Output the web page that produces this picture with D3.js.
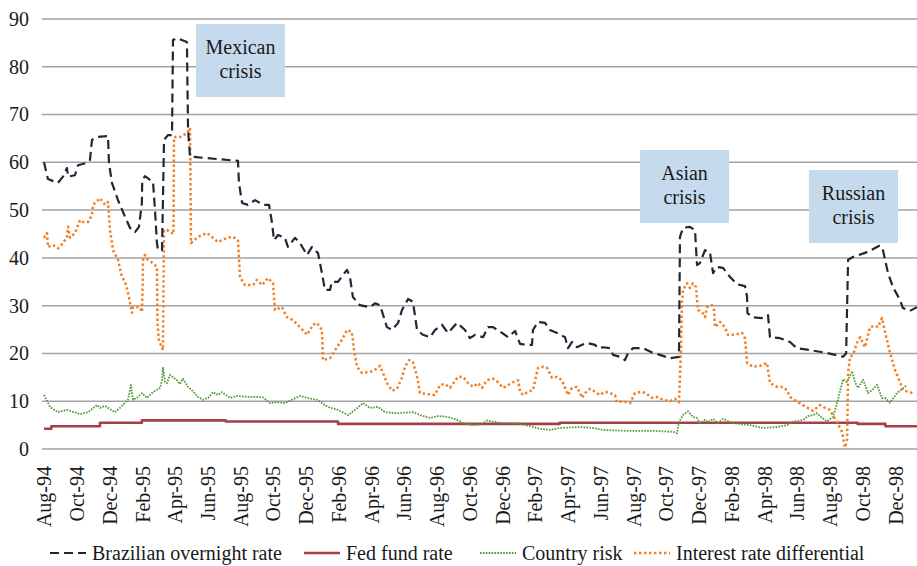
<!DOCTYPE html>
<html>
<head>
<meta charset="utf-8">
<script src="https://cdn.jsdelivr.net/npm/d3@7"></script>
<style>
  html, body { margin: 0; padding: 0; background: #fff; }
  svg { display: block; font-family: "Liberation Serif", "Times New Roman", serif; }
</style>
</head>
<body>
<svg id="chart" width="917" height="566"></svg>
<script>
// ---- DATA (x = months elapsed since Aug-1994, y = percent) ----
const monthLabels = ["Aug-94","Oct-94","Dec-94","Feb-95","Apr-95","Jun-95","Aug-95","Oct-95","Dec-95",
  "Feb-96","Apr-96","Jun-96","Aug-96","Oct-96","Dec-96","Feb-97","Apr-97","Jun-97","Aug-97","Oct-97",
  "Dec-97","Feb-98","Apr-98","Jun-98","Aug-98","Oct-98","Dec-98"];
const monthTicks = [0,2,4,6,8,10,12,14,16,18,20,22,24,26,28,30,32,34,36,38,40,42,44,46,48,50,52];
const yTicks = [0,10,20,30,40,50,60,70,80,90];

const overnightRate = [
  [0,60.0],[0.24,56.5],[0.85,55.7],[1.16,57.0],[1.40,58.8],[1.47,57.0],[1.89,57.3],[2.08,59.4],[2.63,59.9],
  [2.81,60.5],[2.93,64.7],[3.24,65.3],[3.91,65.5],[3.97,59.9],[4.15,55.7],[4.52,52.1],[4.95,48.6],[5.25,46.3],
  [5.56,45.4],[5.80,46.5],[5.98,51.5],[6.00,56.3],[6.17,57.1],[6.66,55.9],[6.78,50.0],[6.90,43.1],[6.97,41.6],
  [7.21,41.6],[7.27,52.7],[7.33,64.7],[7.57,65.7],[7.82,65.7],[7.88,85.6],[8.12,86.0],[8.73,85.2],[8.80,66.8],
  [8.92,61.2],[11.85,60.3],[11.91,55.7],[12.10,51.5],[12.46,51.1],[12.89,52.1],[13.38,51.1],[13.75,51.1],
  [13.93,47.3],[14.05,43.7],[14.30,44.8],[14.72,44.2],[14.90,42.3],[15.33,44.2],[15.64,43.1],[16.07,40.6],
  [16.37,42.3],[16.74,41.0],[16.98,36.8],[17.16,33.3],[17.47,33.3],[17.59,35.0],[17.96,35.0],[18.26,36.4],
  [18.51,37.5],[18.69,36.0],[18.87,31.8],[19.30,30.1],[19.91,29.7],[20.22,30.5],[20.53,30.1],[20.95,25.5],
  [21.26,24.9],[21.63,26.4],[21.87,29.1],[22.24,31.4],[22.54,30.8],[22.79,24.9],[23.15,23.9],[23.58,23.4],
  [23.88,24.9],[24.31,26.0],[24.68,24.3],[25.23,26.4],[25.72,24.9],[26.02,23.2],[26.33,23.9],[26.82,23.4],
  [27.12,25.5],[27.43,25.5],[27.98,24.3],[28.35,23.4],[28.78,24.7],[29.08,22.0],[29.44,21.8],[29.81,21.8],
  [29.87,24.9],[30.18,26.6],[30.61,26.4],[30.91,24.9],[31.34,24.3],[31.83,23.4],[32.01,21.1],[32.26,22.4],
  [32.56,21.3],[32.87,21.8],[33.17,22.2],[33.66,21.8],[33.84,21.1],[34.15,21.3],[34.58,21.1],[34.76,19.7],
  [35.19,19.3],[35.49,18.6],[35.68,20.1],[35.98,21.1],[36.60,21.1],[37.21,20.1],[37.63,19.7],[38.24,19.0],
  [38.79,19.3],[38.85,44.4],[39.04,46.3],[39.46,46.5],[39.77,45.8],[39.89,38.5],[40.07,38.9],[40.38,41.6],
  [40.68,41.2],[40.87,36.8],[41.11,38.1],[41.48,37.9],[41.91,36.0],[42.33,34.5],[42.82,34.1],[42.95,31.8],
  [42.97,28.5],[43.25,27.6],[43.86,27.4],[44.23,28.0],[44.35,23.4],[44.96,23.2],[45.57,22.4],[46.00,21.1],
  [46.79,20.7],[47.83,20.1],[48.81,19.3],[49.00,20.0],[49.12,39.6],[49.42,40.2],[50.27,41.2],[51.07,42.6],
  [51.25,41.6],[51.56,36.8],[51.86,33.9],[52.29,31.2],[52.47,29.5],[52.90,28.9],[53.33,29.7]
];

const fedFundRate = [
  [0,4.25],[0.45,4.75],[3.42,5.5],[5.98,6.0],[11.1,5.75],[17.96,5.25],[31.5,5.5],[49.7,5.25],[51.4,4.75],[53.33,4.75]
];

const countryRisk = [
  [0,11.3],[0.37,8.8],[0.86,7.7],[1.40,8.2],[2.20,7.3],[2.69,7.7],[3.24,9.2],[3.42,8.6],[3.73,9.0],[4.34,7.7],
  [4.64,8.6],[5.13,10.3],[5.31,13.4],[5.44,10.3],[5.74,10.9],[5.99,11.7],[6.29,10.7],[6.66,11.9],[7.09,12.8],
  [7.21,14.4],[7.27,17.0],[7.39,14.0],[7.51,13.8],[7.70,15.5],[8.12,14.4],[8.31,13.6],[8.49,14.7],[8.80,13.0],
  [9.10,12.1],[9.41,10.9],[9.71,10.3],[10.02,10.7],[10.32,11.9],[10.63,11.3],[10.87,11.9],[11.36,10.7],
  [11.79,11.1],[12.40,10.9],[13.01,10.9],[13.38,10.8],[13.81,9.6],[14.23,9.8],[14.72,9.6],[15.15,10.3],
  [15.64,11.1],[16.07,10.7],[16.68,10.3],[17.35,8.8],[17.96,8.2],[18.57,7.1],[19.00,8.2],[19.49,9.6],
  [19.91,8.6],[20.40,8.8],[20.83,7.7],[21.56,7.5],[22.54,7.7],[22.97,7.1],[23.58,6.5],[24.07,6.9],[24.68,6.7],
  [25.23,6.1],[25.60,5.4],[26.21,5.0],[26.76,5.2],[27.06,6.0],[27.43,5.7],[28.04,5.4],[28.89,5.4],[29.69,4.8],
  [30.30,4.2],[30.91,4.0],[31.52,4.4],[32.74,4.6],[33.54,4.4],[34.15,4.0],[35.61,3.8],[37.21,3.8],[38.42,3.6],
  [38.67,3.3],[38.79,5.7],[39.04,7.1],[39.34,7.9],[39.65,6.7],[39.89,6.5],[40.07,5.4],[40.38,6.1],[40.56,5.6],
  [40.87,6.3],[41.17,5.4],[41.48,6.3],[42.09,5.4],[43.13,5.0],[43.92,4.4],[44.78,4.6],[45.39,5.0],[45.75,5.7],
  [46.37,6.1],[46.67,6.9],[46.98,7.1],[47.22,7.5],[47.53,6.5],[47.83,5.8],[48.20,6.7],[48.50,10.3],[48.81,14.6],
  [49.06,14.0],[49.36,16.3],[49.54,14.0],[49.73,12.8],[50.04,14.5],[50.34,11.7],[50.58,12.3],[50.89,13.4],
  [51.19,10.7],[51.38,10.7],[51.68,9.7],[52.11,11.7],[52.72,13.4]
];

const rateDifferential = [
  [0,44.2],[0.18,45.2],[0.24,42.3],[0.55,42.7],[0.86,42.0],[1.16,43.1],[1.40,44.4],[1.47,46.5],[1.59,44.2],
  [1.89,45.2],[2.20,47.9],[2.38,47.5],[2.69,47.5],[2.93,49.0],[2.99,51.1],[3.42,52.5],[3.73,51.1],[3.91,51.7],
  [4.03,45.8],[4.22,41.6],[4.52,39.6],[4.76,36.0],[4.95,35.0],[5.13,32.7],[5.31,29.7],[5.38,28.5],[5.44,29.7],
  [5.86,29.7],[5.99,28.7],[6.05,39.6],[6.17,40.6],[6.35,39.6],[6.66,38.9],[6.90,38.1],[6.93,26.4],[7.02,22.8],
  [7.27,20.7],[7.33,45.8],[7.51,45.8],[7.82,45.2],[7.91,45.0],[7.94,65.3],[8.31,65.3],[8.73,66.1],[8.92,67.2],
  [8.98,43.1],[9.41,44.4],[9.96,45.2],[10.32,44.2],[10.63,43.3],[11.18,44.2],[11.55,44.4],[11.85,43.7],
  [11.97,36.0],[12.28,34.3],[12.77,34.3],[13.01,35.4],[13.32,34.3],[13.68,35.8],[13.99,34.7],[14.11,29.1],
  [14.54,29.7],[14.84,27.6],[15.21,27.0],[15.64,25.5],[16.07,23.9],[16.43,26.0],[16.68,26.4],[16.98,24.9],
  [17.04,18.6],[17.47,19.0],[17.90,21.3],[18.26,23.2],[18.51,24.9],[18.81,24.5],[18.94,20.7],[19.12,17.2],
  [19.43,15.9],[19.79,16.1],[20.10,16.3],[20.53,17.4],[20.71,15.9],[20.95,13.8],[21.26,12.2],[21.56,12.6],
  [21.87,14.9],[22.05,17.2],[22.30,18.6],[22.54,18.2],[22.79,15.1],[22.97,11.7],[23.40,11.5],[23.88,11.3],
  [24.19,13.4],[24.50,13.6],[24.80,12.8],[25.29,15.1],[25.60,15.1],[25.90,13.8],[26.21,13.0],[26.51,13.8],
  [26.76,12.8],[27.06,14.4],[27.43,14.7],[27.73,14.0],[28.04,12.8],[28.47,13.6],[28.77,14.2],[28.96,14.4],
  [29.08,12.0],[29.26,11.3],[29.57,12.0],[29.87,12.3],[30.05,15.1],[30.18,17.0],[30.48,17.2],[30.73,17.0],
  [31.03,14.9],[31.34,15.1],[31.64,14.4],[31.83,12.8],[32.01,11.3],[32.26,12.8],[32.56,13.0],[32.74,11.7],
  [32.87,10.7],[33.05,11.7],[33.35,12.6],[33.66,12.0],[33.96,11.3],[34.27,12.0],[34.58,11.7],[34.88,11.3],
  [35.00,9.8],[35.37,10.0],[35.80,9.6],[36.10,11.7],[36.53,12.0],[36.84,11.5],[37.14,10.7],[37.45,10.9],
  [37.81,10.3],[38.24,10.0],[38.55,10.5],[38.79,9.8],[38.91,20.7],[38.97,30.5],[39.04,33.3],[39.28,34.7],
  [39.46,33.7],[39.65,34.7],[39.83,33.9],[39.95,29.1],[40.20,28.7],[40.38,27.6],[40.50,29.7],[40.81,30.1],
  [40.93,29.1],[40.99,25.5],[41.30,26.6],[41.60,25.5],[41.78,23.9],[42.21,23.9],[42.64,24.3],[42.82,23.2],
  [42.95,18.0],[43.31,17.2],[43.74,17.4],[44.17,18.0],[44.23,16.5],[44.35,13.8],[44.78,13.0],[45.14,13.0],
  [45.39,12.3],[45.57,10.9],[46.06,9.8],[46.61,8.7],[46.98,8.0],[47.40,9.2],[47.71,8.6],[48.01,8.2],
  [48.44,5.6],[48.75,3.6],[48.93,0.3],[49.06,1.9],[49.12,15.9],[49.24,19.3],[49.42,19.7],[49.66,22.2],
  [49.85,23.4],[50.15,21.3],[50.46,25.5],[50.76,25.8],[50.95,25.5],[51.19,27.4],[51.38,24.5],[51.68,20.1],
  [51.99,16.5],[52.29,14.0],[52.47,12.3],[52.90,11.9],[53.08,11.6]
];

const seriesNames = ["Brazilian overnight rate", "Fed fund rate", "Country risk", "Interest rate differential"];

// crisis call-outs: [first line, second line], month span, value span of the box
const crisisText = [["Mexican","crisis"],["Asian","crisis"],["Russian","crisis"]];
const crisisMonths = [[9.29,14.72],[36.41,41.85],[46.73,52.17]];
const crisisValues = [[88.95,73.67],[62.58,47.30],[58.39,43.11]];

// ---- STYLES / LAYOUT ----
const W = 917, H = 566;
const plotLeft = 44, plotRight = 917, plotTop = 19, plotBottom = 449;
const fontSize = 20;
const styles = [
  {color:"#1e2836", width:2.2, dash:"9,5"},
  {color:"#a3404b", width:2.6, dash:null},
  {color:"#4f9a34", width:1.8, dash:"1.6,1.3"},
  {color:"#f47f22", width:2.5, dash:"2.4,2.6"}
];
const legendX = [50, 304, 480, 634];   // start of each legend sample
const legendSample = 36, legendY = 553;

const svg = d3.select("#chart");
svg.append("rect").attr("width", W).attr("height", H).attr("fill", "#fff");

const x = d3.scaleLinear().domain([0, 53.33]).range([plotLeft, plotRight]);
const y = d3.scaleLinear().domain([0, 90]).range([plotBottom, plotTop]);

// gridlines
svg.append("g").selectAll("line").data(yTicks).join("line")
  .attr("x1", plotLeft - 2).attr("x2", plotRight)
  .attr("y1", d => y(d)).attr("y2", d => y(d))
  .attr("stroke", "#a3a3a3").attr("stroke-width", 1.5);

// y axis labels
const yAxis = d3.axisLeft(y).tickValues(yTicks).tickSize(0).tickPadding(0);
const gy = svg.append("g").attr("transform", `translate(${plotLeft - 15},0)`).call(yAxis);
gy.select(".domain").remove();
gy.selectAll("text").attr("font-size", fontSize).attr("fill", "#1a1a1a")
  .attr("font-family", "Liberation Serif, serif");

// x axis labels (rotated)
const xAxis = d3.axisBottom(x).tickValues(monthTicks).tickSize(0)
  .tickFormat((d, i) => monthLabels[i]);
const gx = svg.append("g").attr("transform", `translate(0,${plotBottom})`).call(xAxis);
gx.select(".domain").remove();
gx.selectAll("text")
  .attr("font-size", fontSize).attr("fill", "#1a1a1a")
  .attr("font-family", "Liberation Serif, serif")
  .attr("text-anchor", "end")
  .attr("transform", "translate(0,17) rotate(-90)")
  .attr("x", 0).attr("y", 0).attr("dy", "0.34em");

// lines
const line = d3.line().x(d => x(d[0])).y(d => y(d[1]));
const stepLine = d3.line().x(d => x(d[0])).y(d => y(d[1])).curve(d3.curveStepAfter);
const allSeries = [overnightRate, fedFundRate, countryRisk, rateDifferential];
const drawOrder = [1, 2, 3, 0];
drawOrder.forEach(i => {
  svg.append("path")
    .attr("d", (i === 1 ? stepLine : line)(allSeries[i]))
    .attr("fill", "none")
    .attr("stroke", styles[i].color)
    .attr("stroke-width", styles[i].width)
    .attr("stroke-dasharray", styles[i].dash)
    .attr("stroke-linejoin", "round");
});

// crisis boxes
crisisText.forEach((t, i) => {
  const x0 = x(crisisMonths[i][0]), x1 = x(crisisMonths[i][1]);
  const y0 = y(crisisValues[i][0]), y1 = y(crisisValues[i][1]);
  const g = svg.append("g");
  g.append("rect").attr("x", x0).attr("y", y0).attr("width", x1 - x0).attr("height", y1 - y0)
    .attr("fill", "#c6daee");
  g.selectAll("text").data(t).join("text")
    .attr("x", (x0 + x1) / 2).attr("y", (d, j) => y0 + 30 + j * 24)
    .attr("text-anchor", "middle").attr("font-size", fontSize).attr("fill", "#1a1a1a")
    .text(d => d);
});

// legend
const lg = svg.append("g");
seriesNames.forEach((name, i) => {
  lg.append("line")
    .attr("x1", legendX[i]).attr("x2", legendX[i] + legendSample)
    .attr("y1", legendY).attr("y2", legendY)
    .attr("stroke", styles[i].color).attr("stroke-width", styles[i].width)
    .attr("stroke-dasharray", styles[i].dash);
  lg.append("text")
    .attr("x", legendX[i] + legendSample + 6).attr("y", legendY).attr("dy", "0.35em")
    .attr("font-size", fontSize).attr("fill", "#1a1a1a")
    .text(name);
});
</script>
</body>
</html>
